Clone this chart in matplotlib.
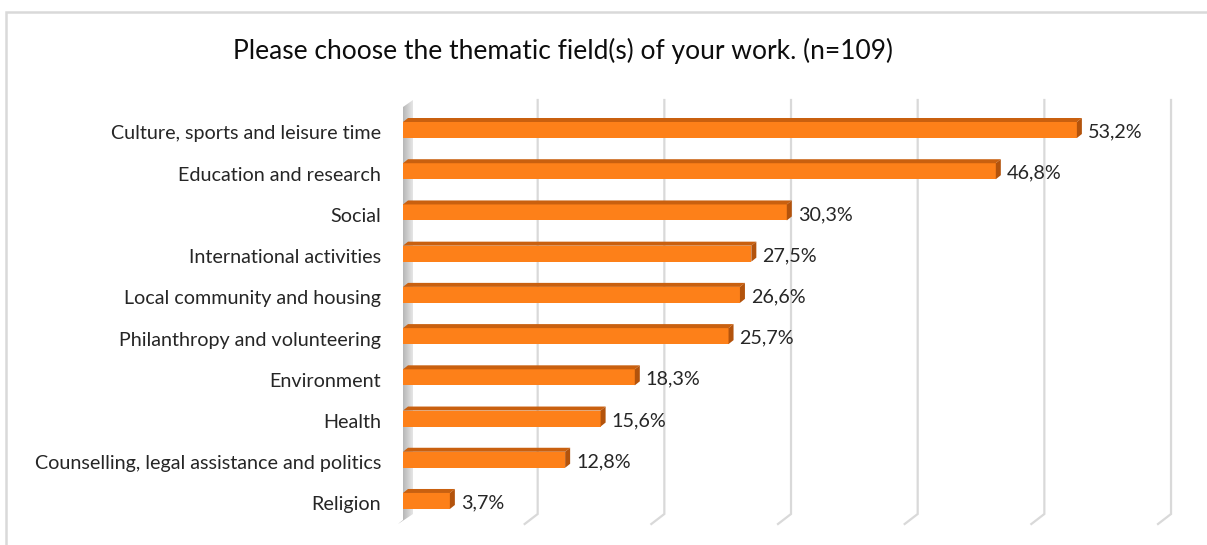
import matplotlib
matplotlib.use('Agg')
from matplotlib import pyplot as plt
from matplotlib.patches import Polygon, Rectangle
import numpy as np

categories = ['Culture, sports and leisure time', 'Education and research', 'Social',
              'International activities', 'Local community and housing',
              'Philanthropy and volunteering', 'Environment', 'Health',
              'Counselling, legal assistance and politics', 'Religion']
values = [53.2, 46.8, 30.3, 27.5, 26.6, 25.7, 18.3, 15.6, 12.8, 3.7]
value_labels = ['53,2%', '46,8%', '30,3%', '27,5%', '26,6%', '25,7%', '18,3%', '15,6%', '12,8%', '3,7%']
grid_ticks = [10, 20, 30, 40, 50, 60]
title = 'Please choose the thematic field(s) of your work. (n=109)'

plt.rcParams['font.family'] = ['Lato', 'DejaVu Sans']

W, H = 1207, 545
fig = plt.figure(figsize=(W / 100, H / 100), dpi=100)

# axes in pixel terms: x=0 at px 403, 12.667 px per unit; rows at 128 + 41.22*i
pxx = 12.667
pxy = 41.22
ax_l, ax_r, ax_top, ax_bot = 390, 1190, 100, 524
ax = fig.add_axes([ax_l / W, (H - ax_bot) / H, (ax_r - ax_l) / W, (ax_bot - ax_top) / H])
ax.set_xlim((ax_l - 403) / pxx, (ax_r - 403) / pxx)
ax.set_ylim((ax_bot - 128) / pxy, (ax_top - 128) / pxy)
ax.axis('off')

def dx(p):
    return p / pxx

def dy(p):
    return p / pxy

y_top = (100 - 128) / pxy
y_floor = (514 - 128) / pxy

# gridlines on back wall with floor foot
for t in grid_ticks:
    xb = t + dx(8)
    ax.plot([xb, xb, xb - dx(13)], [y_top, y_floor, y_floor + dy(10)],
            color='#d9d9d9', lw=1.6, solid_joinstyle='miter', zorder=1, clip_on=False)

# left wall
wall = Polygon([[dx(0), y_top + dy(7)], [dx(10), y_top], [dx(10), y_floor],
                [dx(-5), y_floor + dy(10)], [dx(0), y_floor + dy(6)]],
               closed=True, facecolor='none', edgecolor='none')
ax.add_patch(wall)
grad = np.linspace(0.62, 0.9, 64).reshape(1, -1)
im = ax.imshow(grad, cmap='gray', vmin=0, vmax=1, aspect='auto',
               extent=[dx(-5), dx(10), y_floor + dy(10), y_top], zorder=1)
im.set_clip_path(wall)

front = '#fd8019'
topc = '#c9600f'
side = '#b3530c'
h = 16  # front face height in px
for i, (v, lab) in enumerate(zip(values, value_labels)):
    c = i + dy(2)
    y0 = c - dy(h / 2)
    y1 = c + dy(h / 2)
    ax.add_patch(Rectangle((0, y0), v, y1 - y0, facecolor=front, edgecolor='none', zorder=3))
    ax.add_patch(Polygon([[0, y0], [dx(5), y0 - dy(4)], [v + dx(5), y0 - dy(4)], [v, y0]],
                         closed=True, facecolor=topc, edgecolor='none', zorder=3))
    ax.add_patch(Polygon([[v, y0], [v + dx(5), y0 - dy(4)], [v + dx(5), y1 - dy(4)], [v, y1]],
                         closed=True, facecolor=side, edgecolor='none', zorder=3))
    ax.text(v + dx(11), c + dy(2), lab, ha='left', va='center', fontsize=14.2, color='#262626', zorder=4)
    ax.text(dx(-22), c + dy(4), categories[i], ha='right', va='center', fontsize=14.2,
            color='#262626', zorder=4)

fig.text(563 / W, 1 - 51 / H, title, ha='center', va='center', fontsize=19, color='#0d0d0d')

# chart frame
fig.patches.append(Rectangle((6 / W, -0.1), 1.2, 1 - 12 / H + 0.1, transform=fig.transFigure,
                             facecolor='none', edgecolor='#d9d9d9', lw=1.8))

fig.savefig('out.png', dpi=100)
